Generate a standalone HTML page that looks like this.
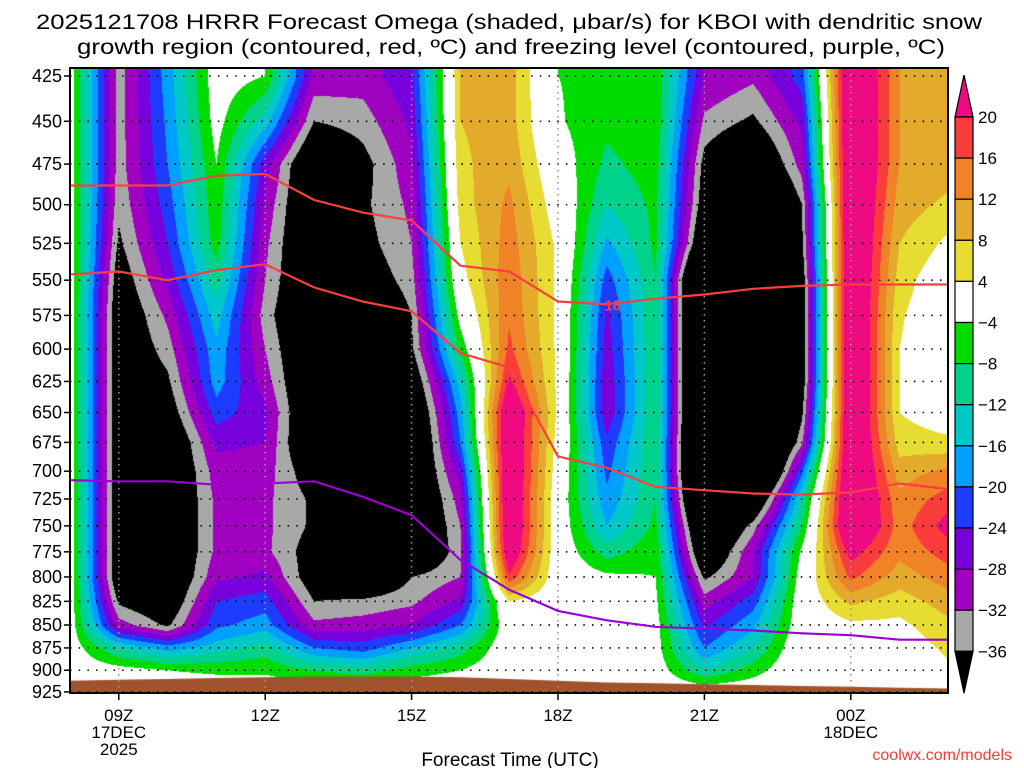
<!DOCTYPE html>
<html><head><meta charset="utf-8"><style>
html,body{margin:0;padding:0;background:#fff;width:1024px;height:768px;overflow:hidden}
#field{position:absolute;left:0;top:0}
#ov{position:absolute;left:0;top:0}
text{font-family:"Liberation Sans",sans-serif}
</style></head><body>
<canvas id="field" width="1024" height="768"></canvas>
<svg id="ov" width="1024" height="768">
 <text x="509" y="29" text-anchor="middle" font-size="21" textLength="946" lengthAdjust="spacingAndGlyphs">2025121708 HRRR Forecast Omega (shaded, μbar/s) for KBOI with dendritic snow</text>
 <text x="511" y="54" text-anchor="middle" font-size="21" textLength="868" lengthAdjust="spacingAndGlyphs">growth region (contoured, red, ºC) and freezing level (contoured, purple, ºC)</text>
 <g id="grid"></g>
 <g id="lines"></g>
 <rect x="70" y="68" width="878" height="625" fill="none" stroke="#000" stroke-width="2"/>
 <g id="yax"></g>
 <g id="xax"></g>
 <text x="510" y="766" text-anchor="middle" font-size="19">Forecast Time (UTC)</text>
 <text x="1012" y="760" text-anchor="end" font-size="16" fill="#f03c3c">coolwx.com/models</text>
 <g id="cbar"></g>
</svg>
<script>
const hours=['08','09','10','11','12','13','14','15','16','17','18','19','20','21','22','23','00','01','02'];
const levels=[425,450,475,500,525,550,575,600,625,650,675,700,725,750,775,800,825,850,875,900,925];
const omegaByHour=[
[-1,-1,-1,-1,-1,-1,-1,-1,-1,-1,-1,-1,-1,-1,-1,-1,-1,-1,-1,-0.5,0],
[-34,-34,-34,-35,-37,-40,-42,-42,-42,-42,-42,-42,-42,-42,-42,-42,-37,-30,-12,-2,0],
[-18,-19,-20,-22,-24,-27,-31,-34,-37,-40,-44,-44,-44,-44,-44,-44,-42,-37,-18,-4,0],
[-1,-2,-4,-5,-6,-10,-14,-17,-18,-22,-27,-30,-31,-31,-31,-29,-24,-21,-14,-5,0],
[-4,-14,-26,-29,-31,-32,-34,-32,-30,-27,-28,-30,-31,-31,-31,-27,-22,-18,-10,-5,0],
[-29,-36,-45,-45,-45,-45,-45,-45,-45,-45,-45,-40,-37,-37,-39,-40,-36,-31,-20,-8,0],
[-30,-34,-38,-37,-38,-40,-45,-45,-45,-45,-45,-45,-45,-45,-45,-45,-35,-30,-22,-10,0],
[-25,-27,-29,-31,-32,-34,-36,-37,-42,-46,-48,-46,-46,-46,-46,-36,-33,-28,-16,-6,0],
[8,8,7,6,4,2,-2,-7,-14,-18,-20,-26,-30,-32,-33,-32,-27,-20,-10,-4,0],
[10,10,11,13,14,15,15.5,17,21,28,28,28,28,28,26,19,4,0,0,0,0],
[-4,-3.5,-1,1,3,3,3,3,3,3,2,1,0,0,0,0,0,0,0,0,0],
[-5,-7,-9,-12,-17,-22,-25,-26,-27,-27,-23,-21,-19,-16,-10,-3,0,0,0,0,0],
[-5,-5,-6,-7,-7,-8,-8,-8,-8,-8,-8,-8,-8,-7,-5,-4,-3,-2,-2,-1,0],
[-28,-33,-38,-40,-45,-60,-60,-60,-60,-60,-62,-62,-58,-50,-45,-37,-30,-25,-20,-12,0],
[-31,-37,-46,-55,-58,-60,-60,-60,-60,-60,-60,-60,-46,-34,-28,-28,-22,-17,-12,-6,0],
[-22,-27,-30,-36,-37,-40,-40,-40,-40,-37,-33,-21,-12,-8,-3,-1,0,0,1,1,0],
[30,30,30,30,30,30,30,30,30,30,30,30,30,30,22,17,9,3,0,0,0],
[12,12,12,10,8,6,4.5,4,4,4,6,10,13,14,13,10,6,3,1,0,0],
[11,11,10,7,3,0,0,0,0,1,5,13,18,22,18,14,10,7,5,3,0]
];
const dgzUpperP=[488,488,488,482,481,497,505,510,540,544,565,567,563,560,556,554,553,553,553];
const dgzLowerP=[546,544,550,543,539,555,565,572,603,614,687,697,714,717,720,721,719,711,716];
const freezingP=[708,709,709,712,711,709,723,740,783,813,835,845,852,854,856,859,861,866,866];
const surfaceP=[912,911,910,909,908,907,907,907,908,910,912,914,915,916,917,918,919,920,921];
const cbLevels=[20,16,12,8,4,-4,-8,-12,-16,-20,-24,-28,-32,-36];
const cbColors=['#fa3c3c','#f08228','#e3aa2c','#e6dc32','#ffffff','#00dc00','#00d28c','#00c8c8','#00a0ff','#1e3cff','#7800dc','#a000c0','#a8a8a8'];
const thresholds=[-36,-32,-28,-24,-20,-16,-12,-8,-4,4,8,12,16,20];
const binColors=['#000000','#a8a8a8','#a000c0','#7800dc','#1e3cff','#00a0ff','#00c8c8','#00d28c','#00dc00','#ffffff','#e6dc32','#e3aa2c','#f08228','#fa3c3c','#f00a82'];
const xTicks=[{h:1,l:['09Z','17DEC','2025']},{h:4,l:['12Z']},{h:7,l:['15Z']},{h:10,l:['18Z']},{h:13,l:['21Z']},{h:16,l:['00Z','18DEC']}];

const X0=70,DX=48.8,Y0=76,KY=792;
function xOf(i){return X0+i*DX;}
function yOf(p){return Y0+KY*Math.log(p/425);}
function pOf(y){return 425*Math.exp((y-Y0)/KY);}
const NS='http://www.w3.org/2000/svg';
function mk(tag,attrs,parent){const e=document.createElementNS(NS,tag);for(const k in attrs)e.setAttribute(k,attrs[k]);parent.appendChild(e);return e;}

(function(){
 const cv=document.getElementById('field'),ctx=cv.getContext('2d');
 const rgb=binColors.map(c=>[parseInt(c.substr(1,2),16),parseInt(c.substr(3,2),16),parseInt(c.substr(5,2),16)]);
 const x1=70,x2=948,y1=68,y2=693,w=x2-x1,h=y2-y1;
 const img=ctx.createImageData(w,h);
 const nT=hours.length-1,nL=levels.length-1;
 for(let yy=0;yy<h;yy++){
  const p=pOf(y1+yy+0.5);
  let r=(p-levels[0])/25;r=Math.max(0,Math.min(nL,r));
  const j0=Math.min(Math.floor(r),nL-1),fr=r-j0;
  for(let xx=0;xx<w;xx++){
   let t=(x1+xx+0.5-X0)/DX;t=Math.max(0,Math.min(nT,t));
   const i0=Math.min(Math.floor(t),nT-1),ft=t-i0;
   const a=omegaByHour[i0][j0],b=omegaByHour[i0+1][j0],c=omegaByHour[i0][j0+1],d=omegaByHour[i0+1][j0+1];
   const v=(a*(1-ft)+b*ft)*(1-fr)+(c*(1-ft)+d*ft)*fr;
   let k=0;while(k<thresholds.length&&v>=thresholds[k])k++;
   const col=rgb[k],o=(yy*w+xx)*4;
   img.data[o]=col[0];img.data[o+1]=col[1];img.data[o+2]=col[2];img.data[o+3]=255;
  }
 }
 ctx.putImageData(img,x1,y1);
 ctx.fillStyle='#a0522d';ctx.beginPath();ctx.moveTo(xOf(0),693);
 surfaceP.forEach((p,i)=>ctx.lineTo(xOf(i),yOf(p)));
 ctx.lineTo(xOf(surfaceP.length-1),693);ctx.closePath();ctx.fill();
})();

const grid=document.getElementById('grid');
levels.forEach(p=>{
 const y=yOf(p);
 const l=mk('line',{x1:70,x2:948,y1:y,y2:y,stroke:'#000','stroke-width':1.6,'stroke-dasharray':'1.5 7.2'},grid);
 
 
});
xTicks.forEach(t=>{
 const x=xOf(t.h);
 const l=mk('line',{x1:x,x2:x,y1:68,y2:693,stroke:'#999','stroke-width':1.6,'stroke-dasharray':'1.5 4.5'},grid);
 
 
});

const lines=document.getElementById('lines');
function drawLine(arr,color,name){
 const d=arr.map((p,i)=>(i?'L':'M')+xOf(i).toFixed(1)+','+yOf(p).toFixed(1)).join(' ');
 const pth=mk('path',{d:d,fill:'none',stroke:color,'stroke-width':2.2},lines);
 
 
}
drawLine(dgzUpperP,'#f84040','dgz-upper-contour');
drawLine(dgzLowerP,'#f84040','dgz-lower-contour');
drawLine(freezingP,'#9a00d0','freezing-level-contour');
const lbl=mk('text',{x:xOf(11)+6,y:yOf(dgzUpperP[11])+6,'text-anchor':'middle','font-size':15,'font-weight':'bold',fill:'#f84040'},lines);
lbl.textContent='18';



const yax=document.getElementById('yax');
levels.forEach(p=>{
 const y=yOf(p);
 const t=mk('text',{x:62,y:y+6,'text-anchor':'end','font-size':18},yax);
 t.textContent=p;
 
 
 const tk=mk('line',{x1:64,x2:70,y1:y,y2:y,stroke:'#000','stroke-width':1.5},yax);
 
 
});
const xax=document.getElementById('xax');
xTicks.forEach(t=>{
 const x=xOf(t.h);
 const tk=mk('line',{x1:x,x2:x,y1:693,y2:700,stroke:'#000','stroke-width':1.5},xax);
 
 
 t.l.forEach((s,k)=>{
  const tx=mk('text',{x:x,y:721+k*17,'text-anchor':'middle','font-size':17},xax);
  tx.textContent=s;
  
  
 });
});

const cb=document.getElementById('cbar');
const cbTop=117,cbStep=41.1,cbX=955,cbW=18;
const up=mk('path',{d:`M${cbX},${cbTop} L${cbX+cbW/2},${cbTop-42} L${cbX+cbW},${cbTop} Z`,fill:'#f00a82',stroke:'#000','stroke-width':1.2},cb);


cbColors.forEach((c,i)=>{
 const r=mk('rect',{x:cbX,y:cbTop+i*cbStep,width:cbW,height:cbStep,fill:c,stroke:'#000','stroke-width':1.2},cb);
 
 
});
const bot=cbTop+cbColors.length*cbStep;
const dn=mk('path',{d:`M${cbX},${bot} L${cbX+cbW/2},${bot+42} L${cbX+cbW},${bot} Z`,fill:'#000',stroke:'#000','stroke-width':1.2},cb);


cbLevels.forEach((v,i)=>{
 const t=mk('text',{x:978,y:cbTop+i*cbStep+6,'font-size':17},cb);
 t.textContent=v<0?'\u2212'+(-v):String(v);
 
 
});
</script>
</body></html>
